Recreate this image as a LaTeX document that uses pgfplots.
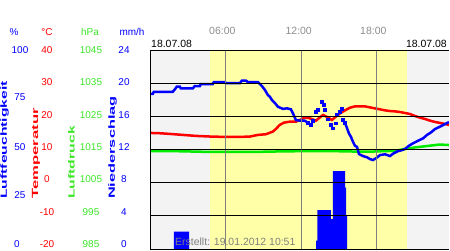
\documentclass[border=0pt]{standalone}
\usepackage{pgfplots}
\pgfplotsset{compat=1.18}
\usepackage{fontspec}
\setmainfont{Liberation Sans}
\definecolor{hblue}{RGB}{0,0,255}
\definecolor{tred}{RGB}{255,0,0}
\definecolor{pgreen}{RGB}{0,235,0}
\definecolor{pgreentxt}{RGB}{60,230,40}
\definecolor{bggray}{RGB}{243,243,243}
\definecolor{bgyellow}{RGB}{255,255,168}
\definecolor{gridgray}{RGB}{128,128,128}
\definecolor{timegray}{RGB}{140,140,140}
\begin{document}
\begin{tikzpicture}[x=1bp,y=1bp]
\path[use as bounding box] (0,0) rectangle (450,250);
\pgfplotsset{myax/.style={at={(150bp,1bp)}, anchor=south west, scale only axis,
  width=299bp, height=199bp, xmin=0, xmax=23.75}}
% background + precipitation
\begin{axis}[myax, ymin=0, ymax=24, hide axis]
\fill[bggray] (axis cs:0,0) rectangle (axis cs:4.8,24);
\fill[bgyellow] (axis cs:4.8,0) rectangle (axis cs:20.4,24);
\fill[bggray] (axis cs:20.4,0) rectangle (axis cs:23.75,24);
\addplot[const plot, fill=hblue, draw=none] coordinates {(1.9,2.1)(3.1,2.1)} \closedcycle;
\addplot[const plot, fill=hblue, draw=none] coordinates {(13.2,1.0)(13.3,4.7)(14.37,3.6)(14.53,9.4)(15.49,7.4)(15.58,4.1)(15.65,4.1)} \closedcycle;
\end{axis}
% pressure
\begin{axis}[myax, ymin=985, ymax=1045, hide axis]
\addplot[pgreen, line width=2.5bp] coordinates {
(0,1014.55)(2,1014.5)(5,1014.25)(8,1014.25)(10,1014.4)(12,1014.5)(14,1014.55)(16,1014.4)(17.5,1014.35)(18.5,1014.5)(19.5,1014.6)(20,1015.0)(21,1015.6)(22,1016.05)(23,1016.5)(23.75,1016.35)};
\end{axis}
% temperature
\begin{axis}[myax, ymin=-20, ymax=40, hide axis]
\addplot[tred, line width=2.5bp] coordinates {
(0,15.0)(0.78,14.9)(1.57,14.7)(2.61,14.4)(3.64,14.1)(4.83,13.9)(5.95,13.8)(7.14,13.8)(7.93,13.9)(8.57,14.4)(9.2,14.6)(9.76,15.4)(10.0,16.2)(10.3,17.4)(10.64,18.1)(11.11,18.4)(11.59,18.4)(11.91,18.9)(12.3,19.7)(12.7,19.4)(13.18,18.7)(13.5,19.7)(13.74,20.4)(14.13,19.7)(14.45,18.9)(14.69,19.7)(15.09,20.9)(15.49,21.8)(15.88,22.6)(16.28,23.0)(16.68,23.0)(17.08,23.0)(17.47,22.7)(17.87,22.4)(18.27,22.1)(18.67,21.8)(19.06,21.6)(19.46,21.5)(19.86,21.3)(20.26,21.0)(20.65,20.7)(21.05,20.1)(21.45,19.6)(21.85,19.2)(22.24,18.7)(22.64,18.3)(23.04,18.0)(23.44,17.7)(23.75,17.4)};
\end{axis}
% humidity
\begin{axis}[myax, ymin=0, ymax=100, hide axis]
\addplot[hblue, line width=2.5bp] coordinates {
(0.04,77.9)(0.22,77.9)(0.30,79.0)(1.81,79.0)(1.97,80.2)(2.13,81.6)(2.37,81.6)(2.45,80.7)(3.40,80.7)(3.56,81.9)(3.96,81.9)(4.04,82.9)(4.99,82.9)(5.07,83.9)(5.95,83.9)(6.03,83.3)(7.14,83.3)(7.30,84.6)(7.62,84.6)(7.77,83.9)(8.57,83.9)(8.89,81.9)(9.13,79.9)(9.36,77.4)(9.52,76.5)(9.68,74.9)(9.92,73.4)(10.16,71.5)(10.56,70.4)(10.87,70.7)(11.19,70.2)(11.35,68.2)(11.59,64.8)(11.91,64.5)(12.30,64.5)(12.54,63.3)};
\addplot[hblue, only marks, mark=square*, mark size=1.4bp] coordinates {
(12.54,63.3)(12.78,62.3)(12.94,64.5)(13.18,69.0)(13.34,70.2)(13.63,74.0)(13.82,72.4)(13.89,69.8)(14.13,65.2)(14.37,62.3)(14.53,60.7)(14.77,63.2)(14.85,67.7)(15.09,69.0)(15.25,70.7)(15.33,64.8)(15.49,63.5)};
\addplot[hblue, line width=2.5bp] coordinates {
(15.49,63.5)(15.65,60.7)(15.80,58.1)(15.96,56.4)(16.12,53.9)(16.28,51.9)(16.44,51.3)(16.60,47.7)(16.92,46.7)(17.23,46.1)(17.47,45.2)(17.71,44.7)(17.95,45.6)(18.27,47.2)(18.67,47.6)(19.06,46.7)(19.30,47.9)(19.70,49.2)(20.02,49.7)(20.26,50.3)(20.57,51.9)(20.89,53.1)(21.29,54.4)(21.69,55.6)(22.00,57.3)(22.32,58.6)(22.64,60.3)(23.04,61.5)(23.44,62.8)(23.75,63.8)};
\end{axis}
% grid on top
\begin{axis}[myax, ymin=-20, ymax=40, ytick={-20,-10,...,40}, xtick={6,12,18},
  grid=major, x grid style={gridgray, line width=1bp}, y grid style={black, line width=1bp},
  xticklabels={}, yticklabels={}, major tick length=0pt, axis line style={draw=none}]
\draw[black, line width=1bp] (rel axis cs:0,0) -- (rel axis cs:0,1);
\end{axis}
% texts
\node[anchor=base west, text=gridgray, font=\fontsize{10.5}{12}\selectfont, inner sep=0pt] at (175,5) {Erstellt: 19.01.2012 10:51};
\node[anchor=base west, font=\fontsize{10.5}{12}\selectfont, inner sep=0pt] at (151,203) {18.07.08};
\node[anchor=base east, font=\fontsize{10.5}{12}\selectfont, inner sep=0pt] at (447,203) {18.07.08};
\foreach \xx/\tt in {222.3/06:00, 298.7/12:00, 373.3/18:00}
  \node[anchor=base, text=timegray, font=\fontsize{10.5}{12}\selectfont, inner sep=0pt] at (\xx,216) {\tt};
% units
\begin{scope}[every node/.style={anchor=base, inner sep=0pt, font=\fontsize{10}{12}\selectfont}]
\node[text=hblue] at (14,215) {\%};
\node[text=tred] at (47,215) {°C};
\node[text=pgreentxt] at (90,215) {hPa};
\node[text=hblue] at (132,215) {mm/h};
\end{scope}
% tick labels
\begin{scope}[every node/.style={anchor=center, inner sep=0pt, font=\fontsize{10}{12}\selectfont}]
\foreach \yy/\a/\b/\c in {200/40/1045/24, 168/30/1035/20, 135/20/1025/16, 103/10/1015/12, 71/0/1005/8, 38/-10/995/4, 6/-20/985/0} {
  \node[text=tred] at (47,\yy) {\a};
  \node[text=pgreentxt] at (91,\yy) {\b};
  \node[text=hblue] at (124,\yy) {\c};
}
\foreach \yy/\h in {200/100, 153/75, 103/50, 55/25}
  \node[text=hblue] at (20,\yy) {\h};
\node[text=hblue] at (17,6) {0};
\end{scope}
% rotated axis titles
\begin{scope}[every node/.style={anchor=base west, rotate=90, inner sep=0pt, font=\fontsize{9}{10}\selectfont\bfseries}]
\node[text=hblue] at (6.8,51) {\scalebox{1.75}[1]{Luftfeuchtigkeit}};
\node[text=tred] at (38,51) {\scalebox{1.86}[1]{Temperatur}};
\node[text=pgreentxt] at (74.5,51) {\scalebox{1.76}[1]{Luftdruck}};
\node[text=hblue] at (114.8,51) {\scalebox{1.82}[1]{Niederschlag}};
\end{scope}
\end{tikzpicture}
\end{document}
